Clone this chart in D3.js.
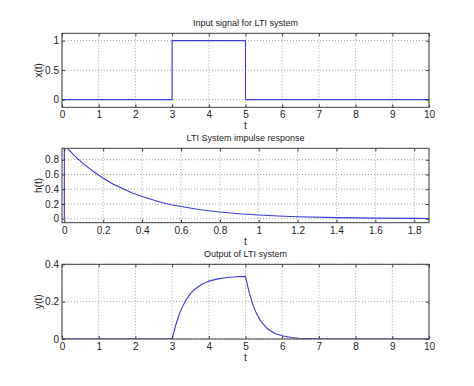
<!DOCTYPE html>
<html>
<head>
<meta charset="utf-8">
<script src="https://cdn.jsdelivr.net/npm/d3@7"></script>
<style>
  body { margin: 0; background: #fff; }
  svg { display: block; font-family: "Liberation Sans", Arial, sans-serif; }
  .tick text { font-size: 10px; fill: #222; }
</style>
</head>
<body>
<svg id="fig" width="474" height="386"></svg>
<script>
// Input signal x(t): rectangular pulse
const xT = [0, 3, 3, 5, 5, 10];
const xV = [0, 0, 1, 1, 0, 0];

// Impulse response h(t)
const hT = [0, 0, 0.05, 0.1, 0.15, 0.2, 0.25, 0.3, 0.35, 0.4, 0.45, 0.5, 0.55, 0.6, 0.7, 0.8, 0.9, 1.0, 1.1, 1.2, 1.4, 1.6, 1.8, 1.88];
const hV = [0, 1, 0.86, 0.74, 0.64, 0.55, 0.47, 0.41, 0.35, 0.30, 0.26, 0.22, 0.19, 0.165, 0.122, 0.091, 0.067, 0.05, 0.037, 0.027, 0.015, 0.008, 0.0045, 0.0035];

// Output y(t)
const yT = [0, 3, 3.1, 3.2, 3.3, 3.4, 3.5, 3.6, 3.8, 4.0, 4.25, 4.5, 4.75, 5.0, 5.1, 5.2, 5.3, 5.4, 5.5, 5.6, 5.8, 6.0, 6.25, 6.5, 7, 10];
const yV = [0, 0, 0.075, 0.135, 0.18, 0.215, 0.243, 0.264, 0.292, 0.31, 0.322, 0.329, 0.333, 0.335, 0.248, 0.184, 0.136, 0.101, 0.075, 0.055, 0.030, 0.017, 0.008, 0.003, 0, 0];

const tTicks10 = [0, 1, 2, 3, 4, 5, 6, 7, 8, 9, 10];
const hTicksX = [0, 0.2, 0.4, 0.6, 0.8, 1, 1.2, 1.4, 1.6, 1.8];

const panels = [
    {title: 'Input signal for LTI system', ylabel: 'x(t)', t: xT, v: xV,
     top: 33.3, bottom: 107.3, xDomain: [0, 10], yDomain: [-0.13, 1.125],
     xTicks: tTicks10, yTicks: [0, 0.5, 1]},
    {title: 'LTI System impulse response', ylabel: 'h(t)', t: hT, v: hV,
     top: 148.3, bottom: 222.7, xDomain: [-0.012, 1.876], yDomain: [-0.054, 0.955],
     xTicks: hTicksX, yTicks: [0, 0.2, 0.4, 0.6, 0.8]},
    {title: 'Output of LTI system', ylabel: 'y(t)', t: yT, v: yV,
     top: 264.3, bottom: 339, xDomain: [0, 10], yDomain: [0, 0.4],
     xTicks: tTicks10, yTicks: [0, 0.2, 0.4]}
];

const left = 62, right = 429;
const svg = d3.select('#fig');
const fmt = d => String(+d.toFixed(2));

panels.forEach((p, i) => {
    const x = d3.scaleLinear().domain(p.xDomain).range([left, right]);
    const y = d3.scaleLinear().domain(p.yDomain).range([p.bottom, p.top]);
    const g = svg.append('g');

    // grid
    g.append('g').selectAll('line').data(p.xTicks).join('line')
        .attr('x1', d => x(d)).attr('x2', d => x(d))
        .attr('y1', p.top).attr('y2', p.bottom)
        .attr('stroke', '#8a8a8a').attr('stroke-width', 0.8).attr('stroke-dasharray', '1,2');
    g.append('g').selectAll('line').data(p.yTicks).join('line')
        .attr('x1', left).attr('x2', right)
        .attr('y1', d => y(d)).attr('y2', d => y(d))
        .attr('stroke', '#8a8a8a').attr('stroke-width', 0.8).attr('stroke-dasharray', '1,2');

    // the signal
    g.append('clipPath').attr('id', 'clip' + i)
        .append('rect').attr('x', left).attr('y', p.top).attr('width', right - left).attr('height', p.bottom - p.top);
    const line = d3.line().x(d => x(d[0])).y(d => y(d[1]));
    g.append('path')
        .datum(p.t.map((t, k) => [t, p.v[k]]))
        .attr('clip-path', `url(#clip${i})`)
        .attr('d', line)
        .attr('fill', 'none').attr('stroke', '#3a3ad6').attr('stroke-width', 1.1);

    // axes, MATLAB style ticks pointing in
    const bottomAxis = g.append('g').attr('transform', `translate(0,${p.bottom})`)
        .call(d3.axisBottom(x).tickValues(p.xTicks).tickFormat(fmt).tickSize(-3).tickSizeOuter(0).tickPadding(4));
    const leftAxis = g.append('g').attr('transform', `translate(${left},0)`)
        .call(d3.axisLeft(y).tickValues(p.yTicks).tickFormat(fmt).tickSize(-3).tickSizeOuter(0).tickPadding(3));
    const topAxis = g.append('g').attr('transform', `translate(0,${p.top})`)
        .call(d3.axisTop(x).tickValues(p.xTicks).tickFormat('').tickSize(-3).tickSizeOuter(0));
    const rightAxis = g.append('g').attr('transform', `translate(${right},0)`)
        .call(d3.axisRight(y).tickValues(p.yTicks).tickFormat('').tickSize(-3).tickSizeOuter(0));
    [bottomAxis, leftAxis, topAxis, rightAxis].forEach(a => {
        a.select('.domain').remove();
        a.selectAll('.tick line').attr('stroke', '#3c3c3c');
        a.attr('font-family', null).attr('font-size', null);
    });

    g.append('rect')
        .attr('x', left).attr('y', p.top).attr('width', right - left).attr('height', p.bottom - p.top)
        .attr('fill', 'none').attr('stroke', '#3c3c3c').attr('stroke-width', 1);

    // labels
    g.append('text').text(p.title)
        .attr('x', (left + right) / 2).attr('y', p.top - 7)
        .attr('text-anchor', 'middle').attr('font-size', 9).attr('fill', '#222');
    g.append('text').text('t')
        .attr('x', (left + right) / 2).attr('y', p.bottom + 22)
        .attr('text-anchor', 'middle').attr('font-size', 10).attr('fill', '#222');
    g.append('text').text(p.ylabel)
        .attr('transform', `translate(41.5,${(p.top + p.bottom) / 2}) rotate(-90)`)
        .attr('text-anchor', 'middle').attr('font-size', 10).attr('fill', '#222');
});
</script>
</body>
</html>
